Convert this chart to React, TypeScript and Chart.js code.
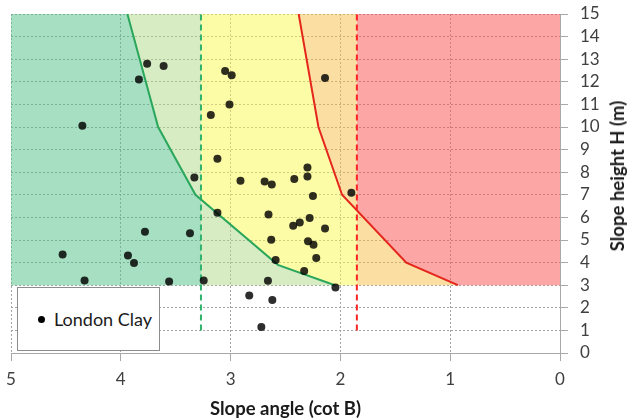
import React, { useEffect, useRef } from 'react';
import { Chart, registerables } from 'chart.js';

Chart.register(...registerables);

// Observed data points (London Clay): slope angle (cot B) and height H (m)
const clayX = [
  3.76, 3.61, 3.835, 4.35, 3.33, 3.78, 3.37, 4.53, 3.935, 3.88, 4.33, 3.56, 3.245,
  3.05, 2.99, 3.01, 3.18, 2.14, 3.12, 2.3, 2.3,
  2.91, 2.69, 2.625, 2.42, 2.25, 1.9,
  3.12, 2.655, 2.28, 2.37, 2.43, 2.14, 2.63, 2.295, 2.245, 2.22, 2.59, 2.33,
  2.66, 2.045, 2.83, 2.62, 2.72,
];
const clayY = [
  12.8, 12.7, 12.1, 10.05, 7.77, 5.37, 5.3, 4.36, 4.31, 3.98, 3.21, 3.16, 3.21,
  12.48, 12.29, 11.0, 10.53, 12.17, 8.6, 8.21, 7.81,
  7.62, 7.59, 7.46, 7.7, 6.95, 7.09,
  6.21, 6.13, 5.97, 5.77, 5.63, 5.51, 5.01, 4.94, 4.79, 4.2, 4.11, 3.63,
  3.2, 2.9, 2.54, 2.34, 1.15,
];

// Boundary curves (x = cot B, y = H)
const greenCurveX = [3.94, 3.66, 3.32, 2.57, 2.05];
const greenCurveY = [15, 10, 7, 3.9, 3];
const redCurveX = [2.38, 2.2, 1.985, 1.4, 0.93];
const redCurveY = [15, 10, 7, 4, 3];

// Vertical limit lines
const greenLimit = 3.27;
const redLimit = 1.85;
const limitBottom = 1;
const zoneTop = 15;
const zoneBottom = 3;

const xMin = 0;
const xMax = 5;
const yMin = 0;
const yMax = 15;

const legendLabel = 'London Clay';
const xTitle = 'Slope angle (cot B)';
const yTitle = 'Slope height H (m)';

const FONT = 'Lato, "Open Sans", sans-serif';
const ZONE_ALPHA = 0.5;

type P = { x: number; y: number };

function curvePoints(xs: number[], ys: number[]): P[] {
  return xs.map((x, i) => ({ x, y: ys[i] }));
}

// translucent colour that looks like `rgb` when laid over white
function overWhite(rgb: number[], a: number): string {
  const c = rgb.map((v) => Math.max(0, Math.min(255, Math.round((v - (1 - a) * 255) / a))));
  return `rgba(${c[0]},${c[1]},${c[2]},${a})`;
}

// Boundary from top to bottom: x = pick(curve(y), c), with crossing points inserted
function bounded(xs: number[], ys: number[], c: number, pick: (a: number, b: number) => number): P[] {
  const out: P[] = [];
  for (let i = 0; i < xs.length; i++) {
    if (i > 0) {
      const d0 = xs[i - 1] - c;
      const d1 = xs[i] - c;
      if (d0 * d1 < 0) {
        const t = d0 / (d0 - d1);
        out.push({ x: c, y: ys[i - 1] + t * (ys[i] - ys[i - 1]) });
      }
    }
    out.push({ x: pick(xs[i], c), y: ys[i] });
  }
  return out;
}

function band(left: P[], right: P[]): P[] {
  return [...left, ...right.slice().reverse()];
}

export default function App() {
  const canvasRef = useRef<HTMLCanvasElement | null>(null);

  useEffect(() => {
    const canvas = canvasRef.current;
    if (!canvas) return;

    const gMax = bounded(greenCurveX, greenCurveY, greenLimit, Math.max);
    const gMin = bounded(greenCurveX, greenCurveY, greenLimit, Math.min);
    const rMax = bounded(redCurveX, redCurveY, redLimit, Math.max);
    const rMin = bounded(redCurveX, redCurveY, redLimit, Math.min);

    const zones: { data: P[]; color: number[] }[] = [
      { data: band([{ x: xMax, y: zoneTop }, { x: xMax, y: zoneBottom }], gMax), color: [166, 223, 194] },
      { data: band(gMax, gMin), color: [215, 236, 195] },
      { data: band(gMin, rMax), color: [253, 252, 166] },
      { data: band(rMax, rMin), color: [251, 223, 162] },
      { data: band(rMin, [{ x: xMin, y: zoneTop }, { x: xMin, y: zoneBottom }]), color: [252, 166, 166] },
    ];

    const zoneSets = zones.map((z) => ({
      data: z.data,
      showLine: true,
      fill: 'shape',
      backgroundColor: overWhite(z.color, ZONE_ALPHA),
      borderWidth: 0,
      pointRadius: 0,
      order: 4,
    }));

    const chart = new Chart(canvas, {
      type: 'scatter',
      data: {
        datasets: [
          {
            label: legendLabel,
            data: clayX.map((x, i) => ({ x, y: clayY[i] })),
            backgroundColor: 'rgba(0,0,0,0.82)',
            borderWidth: 0,
            pointRadius: 4,
            order: 0,
          },
          {
            data: curvePoints(greenCurveX, greenCurveY),
            showLine: true,
            borderColor: '#2aa75c',
            borderWidth: 2,
            pointRadius: 0,
            fill: false,
            order: 1,
          },
          {
            data: curvePoints(redCurveX, redCurveY),
            showLine: true,
            borderColor: '#e5261c',
            borderWidth: 2,
            pointRadius: 0,
            fill: false,
            order: 1,
          },
          {
            data: [{ x: greenLimit, y: limitBottom }, { x: greenLimit, y: zoneTop }],
            showLine: true,
            borderColor: '#2fb26c',
            borderWidth: 2,
            borderDash: [6, 4],
            pointRadius: 0,
            fill: false,
            order: 2,
          },
          {
            data: [{ x: redLimit, y: limitBottom }, { x: redLimit, y: zoneTop }],
            showLine: true,
            borderColor: '#ff2424',
            borderWidth: 2,
            borderDash: [6, 4],
            pointRadius: 0,
            fill: false,
            order: 2,
          },
          ...zoneSets,
        ] as any,
      },
      options: {
        animation: false,
        responsive: true,
        maintainAspectRatio: false,
        layout: { padding: { top: 14, left: 11, right: 0, bottom: 0 } },
        plugins: {
          legend: { display: false },
          tooltip: { enabled: false },
        },
        scales: {
          x: {
            type: 'linear',
            reverse: true,
            min: xMin,
            max: xMax,
            afterFit: (s: any) => {
              s.height = 67;
              s.paddingLeft = 0;
              s.paddingRight = 0;
            },
            ticks: {
              stepSize: 1,
              autoSkip: false,
              font: { family: FONT, size: 17 },
              color: '#404040',
              padding: 8,
            },
            grid: {
              color: '#a4a4a4',
              tickLength: 8,
              tickColor: '#a8a8a8',
              tickBorderDash: [],
            },
            border: { display: true, color: '#a8a8a8', width: 1, dash: [2, 2], z: 1 },
            title: {
              display: true,
              text: xTitle,
              font: { family: FONT, size: 18.5, weight: 'bold' },
              color: '#1a1a1a',
              padding: { top: 2, bottom: 0 },
            },
          },
          y: {
            type: 'linear',
            position: 'right',
            min: yMin,
            max: yMax,
            afterFit: (s: any) => {
              s.width = 67;
              s.paddingTop = 0;
              s.paddingBottom = 0;
            },
            ticks: {
              stepSize: 1,
              autoSkip: false,
              font: { family: FONT, size: 17 },
              color: '#404040',
              padding: 12,
            },
            grid: {
              color: '#a4a4a4',
              tickLength: 8,
              tickColor: '#a8a8a8',
              tickBorderDash: [],
            },
            border: { display: true, color: '#a8a8a8', width: 1, dash: [2, 2], z: 1 },
          },
        },
      } as any,
    });

    return () => {
      chart.destroy();
    };
  }, []);

  return (
    <div style={{ position: 'fixed', left: 0, top: 0, width: 627, height: 420, background: '#fff' }}>
      <canvas ref={canvasRef} />
      <div
        style={{
          position: 'absolute',
          left: 17,
          top: 287,
          width: 143,
          height: 64,
          border: '1px solid #8c8c8c',
          background: '#fff',
          fontFamily: FONT,
          fontSize: 18,
          color: '#1a1a1a',
          display: 'flex',
          alignItems: 'center',
          boxSizing: 'border-box',
        }}
      >
        <span
          style={{
            display: 'inline-block',
            width: 7,
            height: 7,
            borderRadius: '50%',
            background: '#000',
            marginLeft: 20,
            marginRight: 9,
          }}
        />
        <span>{legendLabel}</span>
      </div>
      <div
        style={{
          position: 'absolute',
          left: 617,
          top: 176,
          transform: 'translate(-50%, -50%) rotate(-90deg)',
          whiteSpace: 'nowrap',
          fontFamily: FONT,
          fontSize: 18.5,
          fontWeight: 'bold',
          color: '#1a1a1a',
        }}
      >
        {yTitle}
      </div>
    </div>
  );
}
